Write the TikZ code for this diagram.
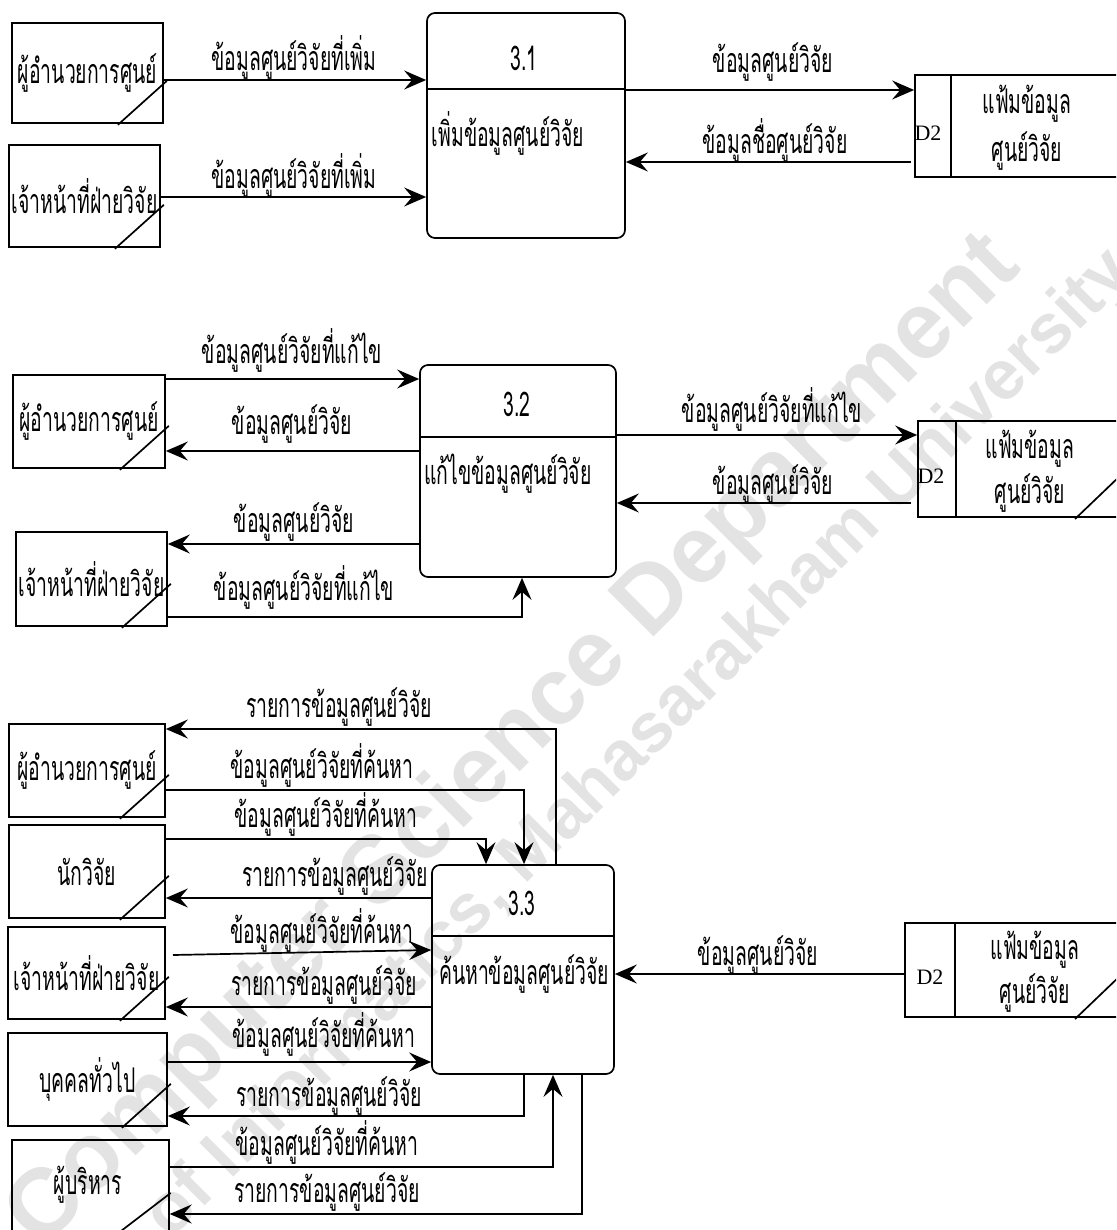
\documentclass[tikz,border=0pt]{standalone}
\usepackage{fontspec}
\usetikzlibrary{arrows.meta,calc}
\newfontfamily\thai[Script=Thai,FakeStretch=0.57]{Loma}
\newfontfamily\romanD{Liberation Serif}
\newfontfamily\wmfont{Liberation Sans}

% slash in the lower right corner of an external entity
\newcommand\eslash[1]{\draw[wline] ([shift={(-46pt,-1pt)}]#1.south east) -- ([shift={(3pt,43pt)}]#1.south east);}

\tikzset{
  wline/.style={line width=1.7pt},
  thaitext/.style={font=\thai\fontsize{34}{36}\selectfont},
  ent/.style={draw, wline, rectangle, inner sep=0pt, thaitext, align=center},
  proc/.style={draw, wline, rectangle, rounded corners=8pt, inner sep=0pt},
  store/.style={draw, wline, rectangle, inner sep=0pt},
  lbl/.style={thaitext, inner sep=0pt},
  dnum/.style={font=\romanD\fontsize{22}{24}\selectfont, inner sep=0pt},
  flow/.style={wline, -{Stealth[length=22pt,width=19pt,inset=8pt]}},
  wm/.style={text=black!11, font=\wmfont\bfseries, inner sep=0pt}
}

\begin{document}
\begin{tikzpicture}[x=1pt,y=-1pt]
\clip (0,0) rectangle (1116,1230);
\useasboundingbox (0,0) rectangle (1116,1230);

% watermark
\node[wm, font=\wmfont\bfseries\fontsize{95}{95}\selectfont, rotate=45] (wm1) at (515,742) {Computer Science Department};
\node[wm, font=\wmfont\bfseries\fontsize{70}{70}\selectfont, rotate=45] (wm2) at (640,745) {of Informatics, Mahasarakham University};

% ---------- process 3.1 ----------
\node[ent, minimum width=151pt, minimum height=100pt] (a1) at (87.5,73) {ผู้อำนวยการศูนย์};
\node[ent, minimum width=151pt, minimum height=102pt] (a2) at (84.5,196) {เจ้าหน้าที่ฝ่ายวิจัย};
\eslash{a1}\eslash{a2}

\node[proc, minimum width=198pt, minimum height=225pt] (p31) at (526,125.5) {};
\draw[wline] (p31.west |- 0,89) -- (p31.east |- 0,89);
\node[lbl] (p31n) at (524,58) {3.1};
\node[lbl] (p31t) at (508,133) {เพิ่มข้อมูลศูนย์วิจัย};

\node[store, minimum width=225pt, minimum height=102pt] (d2a) at (1027.5,126) {};
\draw[wline] ([xshift=37pt]d2a.north west) -- ([xshift=37pt]d2a.south west);
\node[dnum] (d2an) at (928,133) {D2};
\node[lbl] (d2at1) at (1027,104) {แฟ้มข้อมูล};
\node[lbl] (d2at2) at (1027,151) {ศูนย์วิจัย};

\draw[flow] (a1.east |- 0,80) -- (p31.west |- 0,80);
\node[lbl] (l11) at (294,57) {ข้อมูลศูนย์วิจัยที่เพิ่ม};
\draw[flow] (a2.east |- 0,197) -- (p31.west |- 0,197);
\node[lbl] (l12) at (294,175) {ข้อมูลศูนย์วิจัยที่เพิ่ม};
\draw[flow] (p31.east |- 0,90) -- (d2a.west |- 0,90);
\node[lbl] (l13) at (773,62) {ข้อมูลศูนย์วิจัย};
\draw[flow] ([xshift=-3pt]d2a.west |- 0,162) -- (p31.east |- 0,162);
\node[lbl] (l14) at (775,140) {ข้อมูลชื่อศูนย์วิจัย};

% ---------- process 3.2 ----------
\node[ent, minimum width=152pt, minimum height=93pt] (b1) at (89,421.5) {ผู้อำนวยการศูนย์};
\node[ent, minimum width=151pt, minimum height=94pt] (b2) at (91.5,579) {เจ้าหน้าที่ฝ่ายวิจัย};
\eslash{b1}\eslash{b2}

\node[proc, minimum width=196pt, minimum height=212pt] (p32) at (518,471) {};
\draw[wline] (p32.west |- 0,437) -- (p32.east |- 0,437);
\node[lbl] (p32n) at (517,404) {3.2};
\node[lbl] (p32t) at (508,474) {แก้ไขข้อมูลศูนย์วิจัย};

\node[store, minimum width=222pt, minimum height=96pt] (d2b) at (1029,469) {};
\draw[wline] ([xshift=39pt]d2b.north west) -- ([xshift=39pt]d2b.south west);
\draw[wline] (1075,519) -- (1122,474);
\node[dnum] (d2bn) at (931,476) {D2};
\node[lbl] (d2bt1) at (1030,449) {แฟ้มข้อมูล};
\node[lbl] (d2bt2) at (1030,493) {ศูนย์วิจัย};

\draw[flow] (b1.east |- 0,379) -- (p32.west |- 0,379);
\node[lbl] (l21) at (292,350) {ข้อมูลศูนย์วิจัยที่แก้ไข};
\draw[flow] (p32.west |- 0,451) -- (b1.east |- 0,451);
\node[lbl] (l22) at (292,424) {ข้อมูลศูนย์วิจัย};
\draw[flow] (p32.west |- 0,544) -- (b2.east |- 0,544);
\node[lbl] (l23) at (294,522) {ข้อมูลศูนย์วิจัย};
\draw[flow] (b2.east |- 0,617) -| (p32.south -| 522,0);
\node[lbl] (l24) at (304,587) {ข้อมูลศูนย์วิจัยที่แก้ไข};
\draw[flow] (p32.east |- 0,435) -- (d2b.west |- 0,435);
\node[lbl] (l25) at (772,409) {ข้อมูลศูนย์วิจัยที่แก้ไข};
\draw[flow] ([xshift=-6pt]d2b.west |- 0,503) -- (p32.east |- 0,503);
\node[lbl] (l26) at (773,484) {ข้อมูลศูนย์วิจัย};

% ---------- process 3.3 ----------
\node[ent, minimum width=156pt, minimum height=93pt] (c1) at (87,770.5) {ผู้อำนวยการศูนย์};
\node[ent, minimum width=156pt, minimum height=93pt] (c2) at (87,871.5) {นักวิจัย};
\node[ent, minimum width=157pt, minimum height=92pt] (c3) at (86.5,973) {เจ้าหน้าที่ฝ่ายวิจัย};
\node[ent, minimum width=159pt, minimum height=93pt] (c4) at (87.5,1079.5) {บุคคลทั่วไป};
\node[ent, minimum width=157pt, minimum height=121pt, anchor=north west] (c5) at (11,1139) {};
\node[lbl] (c5t) at (88,1185) {ผู้บริหาร};
\eslash{c1}\eslash{c2}\eslash{c3}\eslash{c4}
\draw[wline] ([shift={(-50pt,-93pt)}]c5.north east) -- ([shift={(1pt,-54pt)}]c5.north east);

\node[proc, minimum width=182pt, minimum height=209pt] (p33) at (523,969.5) {};
\draw[wline] (p33.west |- 0,936) -- (p33.east |- 0,936);
\node[lbl] (p33n) at (522,903) {3.3};
\node[lbl] (p33t) at (524,974) {ค้นหาข้อมูลศูนย์วิจัย};

\node[store, minimum width=235pt, minimum height=94pt] (d2c) at (1022.5,970) {};
\draw[wline] ([xshift=51pt]d2c.north west) -- ([xshift=51pt]d2c.south west);
\draw[wline] (1075,1019) -- (1122,974);
\node[dnum] (d2cn) at (930,977) {D2};
\node[lbl] (d2ct1) at (1035,950) {แฟ้มข้อมูล};
\node[lbl] (d2ct2) at (1035,993) {ศูนย์วิจัย};

\draw[flow] (p33.north -| 556,0) |- (c1.east |- 0,729);
\node[lbl] (l31) at (339,707) {รายการข้อมูลศูนย์วิจัย};
\draw[flow] (c1.east |- 0,790) -| (p33.north -| 524,0);
\node[lbl] (l32) at (322,765) {ข้อมูลศูนย์วิจัยที่ค้นหา};
\draw[flow] (c2.east |- 0,839) -| (p33.north -| 486,0);
\node[lbl] (l33) at (326,814) {ข้อมูลศูนย์วิจัยที่ค้นหา};
\draw[flow] (p33.west |- 0,898) -- (c2.east |- 0,898);
\node[lbl] (l34) at (335,876) {รายการข้อมูลศูนย์วิจัย};
\coordinate (h5s) at (173,955);
\draw[flow] (h5s) -- (p33.west |- 0,950);
\node[lbl] (l35) at (322,930) {ข้อมูลศูนย์วิจัยที่ค้นหา};
\draw[flow] (p33.west |- 0,1007) -- (c3.east |- 0,1007);
\node[lbl] (l36) at (324,985) {รายการข้อมูลศูนย์วิจัย};
\draw[flow] (c4.east |- 0,1062) -- (p33.west |- 0,1062);
\node[lbl] (l37) at (324,1034) {ข้อมูลศูนย์วิจัยที่ค้นหา};
\draw[flow] (p33.south -| 524,0) |- (c4.east |- 0,1116);
\node[lbl] (l38) at (329,1096) {รายการข้อมูลศูนย์วิจัย};
\draw[flow] (c5.east |- 0,1167) -| (p33.south -| 553,0);
\node[lbl] (l39) at (327,1142) {ข้อมูลศูนย์วิจัยที่ค้นหา};
\draw[flow] (p33.south -| 582,0) |- (c5.east |- 0,1214);
\node[lbl] (l310) at (327,1192) {รายการข้อมูลศูนย์วิจัย};
\draw[flow] (d2c.west |- 0,974) -- (p33.east |- 0,974);
\node[lbl] (l311) at (758,955) {ข้อมูลศูนย์วิจัย};
\end{tikzpicture}
\end{document}
